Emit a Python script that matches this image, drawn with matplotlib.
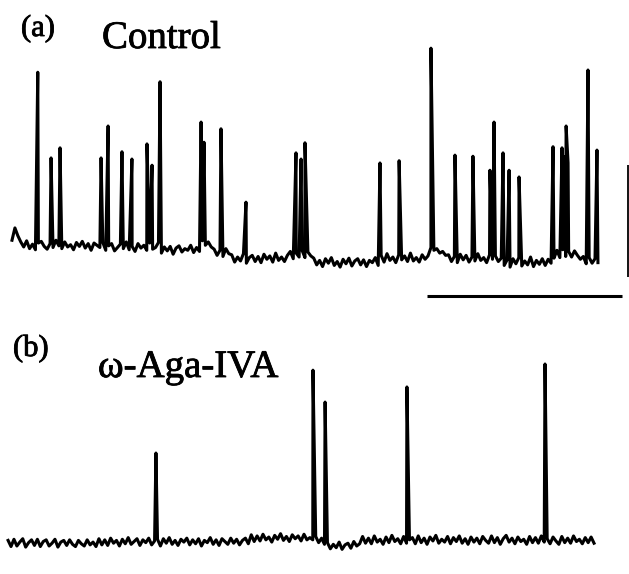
import numpy as np
import matplotlib.pyplot as plt
import matplotlib.patheffects as pe

plt.rcParams['font.family'] = ['Liberation Serif', 'DejaVu Serif']

# sampling interval of the baseline (s)
DT = 0.15

# (a) Control: baseline samples (mV), starting at t = 0 s
base_a = [
    2.1, 4.3, 2.9, 1.8,
    0.9, 2.0, 0.6, 1.4, 0.4, 1.6, 1.9, 1.0, 0.5, 1.5, 0.8, 2.1, 1.1, 0.6, 1.8, 0.9,
    1.3, 0.4, 1.7, 1.0, 1.9, 0.7, 1.5, 0.3, 1.6, 1.2, 0.8,
    1.7, 0.3, 1.1, 1.5, 0.2, 0.8, 1.4, 0.6, 1.8, 0.4, 1.0, 0.1, 1.5, 0.7, 1.2, 0.3,
    1.6, 0.5, 0.8, 1.7,
    -0.2, 0.9, 0.2, 1.0, -0.4, 0.7, 1.1, 0.0, 0.6, 0.3, 1.2, -0.1, 0.8, 0.1,
    2.0, 1.2, 1.8, 0.9,
    0.5, -0.6, 0.3, -0.8, 0.6, -0.3,
    -0.5, -1.8, -0.9, -1.6, -0.3, -2.0, -1.0, -0.6, -1.7, -0.8, -1.9, -0.4, -1.3, -0.7,
    -1.8, -0.2, -1.5, -0.9, -1.7, -0.6,
    0.1, -1.2, -0.2, -0.9, 0.3, -1.0, 0.0, -0.7,
    -1.1, -2.3, -1.5, -2.6, -1.2, -2.0, -1.0, -2.4, -1.7, -2.7, -1.3, -2.1, -1.1, -2.5,
    -1.6, -1.2, -2.3, -1.4, -2.6, -1.5, -1.9, -1.0, -2.4,
    -0.6, -1.8, -0.3, -1.5, -0.9, -1.9, -0.5, -1.4, -0.7, -1.7, -0.2, -1.6, -1.0, -1.8,
    -0.5, -1.3, -0.7,
    0.8, 0.3, 0.6, -0.2, 0.1, -0.6,
    -0.5, -1.7, -0.8, -1.9, -0.4, -1.4, -0.6, -1.8, -0.9, -1.6, -0.3, -1.5, -1.0, -1.9,
    -0.5, -1.3, -0.7, -1.7,
    -1.1, -2.4, -1.4, -2.7, -1.2, -2.1, -1.0, -2.5, -1.6, -2.3, -0.9, -2.6, -1.5, -2.2,
    -1.2, -2.4, -1.3, -2.0, -1.1,
    0.3, -1.0, 0.4, -0.8, 0.1, -0.9, 0.2, -0.6, -1.3,
    -0.8, -2.1, -1.0, -2.0, -1.2, -1.9,
]

# (a) Control: event times (s) and peak values (mV)
spike_t_a = [1.32, 2.00, 2.46, 4.56, 4.92, 5.63, 6.14, 6.91, 7.17, 7.58,
             9.68, 9.83, 10.70, 11.98, 14.54, 14.80, 15.00, 18.84, 19.82, 21.45,
             22.68, 23.60, 24.47, 24.68, 25.14, 25.45, 25.96, 27.70, 28.16, 28.26,
             28.37, 28.47, 29.49, 29.95]
spike_v_a = [32.1, 16.8, 18.6, 16.8, 22.5, 17.9, 16.6, 19.3, 15.5, 30.4,
             23.2, 19.6, 22.0, 8.9, 17.7, 16.6, 19.5, 15.9, 16.3, 36.4,
             17.3, 17.1, 14.6, 23.2, 17.7, 14.6, 13.4, 18.8, 18.6, 17.0,
             22.5, 15.9, 32.5, 18.2]

# (b) w-Aga-IVA: baseline samples (mV), starting at t = -0.2 s
base_b = [
    0.1, -1.0, 0.3, -0.9, -0.2, 0.4, -1.1, -0.3, 0.2, -0.8, 0.3, -1.0, -0.1, 0.2, -0.9,
    -0.4, 0.3, -1.1, -0.2, 0.1, -0.8, 0.2, -0.6, -1.0, 0.1, -0.5, -0.9, 0.2, -0.7, -0.2,
    -1.0,
    0.4, -0.7, 0.2, -0.8, 0.5, -0.4, 0.1, -0.9, 0.3, -0.5, 0.6, -0.6, -0.1, 0.4, -0.8,
    0.2, -0.3, 0.5, -0.7, 0.0, 0.3, -0.9, 0.4, -0.4, 0.6, -0.6, 0.1, -0.8, 0.3, -0.2,
    0.5, -0.7, 0.2, -0.5, 0.4, -0.9, 0.1, -0.3, 0.6, -0.6, 0.2, -0.8, 0.4, -0.1, -0.6,
    0.5, -0.4, 0.3, -0.7, 0.1, 0.5, -0.5,
    1.1, -0.1, 0.9, 0.0, 1.2, 0.2, 0.7, -0.2, 1.0, 0.3, 1.3, 0.1, 0.8, -0.1, 1.1, 0.4,
    0.9, 0.0, 1.2, 0.2, 0.6,
    0.2, 0.8, -0.3, 0.5, -0.6,
    -0.3, -1.4, -0.6, -1.2, -0.2, -1.5, -0.7, -0.4, -1.3, -0.1, -0.9, -0.5,
    0.8, -0.4, 0.5, -0.5, 0.9, -0.2, 0.3, -0.6, 0.7, -0.3, 1.0, -0.1, 0.4, -0.5, 0.8,
    -0.4, 0.2, 0.6, -0.5, 0.9, -0.3, 0.5, -0.6, 0.7, 0.0, 1.0, -0.4, 0.3, -0.2, 0.8,
    -0.5, 0.6, -0.1, 0.9, -0.4, 0.4, -0.6, 0.7, -0.2, 0.5, -0.5, 0.8, 0.1, -0.4, 0.9,
    -0.3, 0.6, -0.6, 0.4, 1.0, -0.2, 0.5, -0.5, 0.7, -0.1, 0.3, -0.6, 0.8, -0.3, 0.6,
    -0.4, 0.9, -0.2, 0.4, -0.5, 0.7, 0.0, -0.6, 0.8, -0.3, 0.5, -0.4, 0.9, -0.1, 0.3,
    -0.5, 0.6, -0.3, 0.7, -0.4,
]

spike_t_b = [7.37, 15.41, 16.03, 20.22, 27.29]
spike_v_b = [15.7, 30.5, 24.8, 27.5, 31.6]

# scale bars: 10 s, 20 mV
bar_t = 10.0
bar_v = 20.0

# vertical gap between the two traces (mV)
OFFSET_B = 51.6


def build_trace(t0, base, spike_t, spike_v):
    """ Merge baseline samples and event peaks into one time-ordered trace. """
    t = t0 + DT * np.arange(len(base))
    tt = np.concatenate([t, spike_t])
    vv = np.concatenate([base, spike_v])
    order = np.argsort(tt, kind='stable')
    return tt[order], vv[order]


fig = plt.figure(figsize=(6.29, 5.74), dpi=100)
ax = fig.add_axes([0, 0, 1, 1])

ta, va = build_trace(0.0, base_a, spike_t_a, spike_v_a)
tb, vb = build_trace(-0.2, base_b, spike_t_b, spike_v_b)

ax.plot(ta, va, color='k', lw=2.2, solid_joinstyle='round')
ax.plot(tb, vb - OFFSET_B, color='k', lw=2.2, solid_joinstyle='round')

# scale bars
ax.plot([21.25, 21.25 + bar_t], [-7.9, -7.9], color='k', lw=2.2, solid_capstyle='butt')
ax.plot([31.52, 31.52], [-4.5, -4.5 + bar_v], color='k', lw=1.3, solid_capstyle='butt')

ax.set_xlim(-0.614, 31.59)
ax.set_ylim(-57.5, 45.0)
ax.axis('off')

# slightly heavier lettering
heavy = [pe.withStroke(linewidth=0.6, foreground='k')]
W, H = 629.0, 574.0
fig.text(21 / W, 1 - 36 / H, '(a)', fontsize=22, va='baseline', ha='left', path_effects=heavy)
fig.text(102 / W, 1 - 48 / H, 'Control', fontsize=28, va='baseline', ha='left', path_effects=heavy)
fig.text(13 / W, 1 - 356 / H, '(b)', fontsize=22, va='baseline', ha='left', path_effects=heavy)
fig.text(98 / W, 1 - 377 / H, '\u03c9-Aga-IVA', fontsize=28, va='baseline', ha='left',
         path_effects=heavy)

fig.savefig('out.png', dpi=100)
